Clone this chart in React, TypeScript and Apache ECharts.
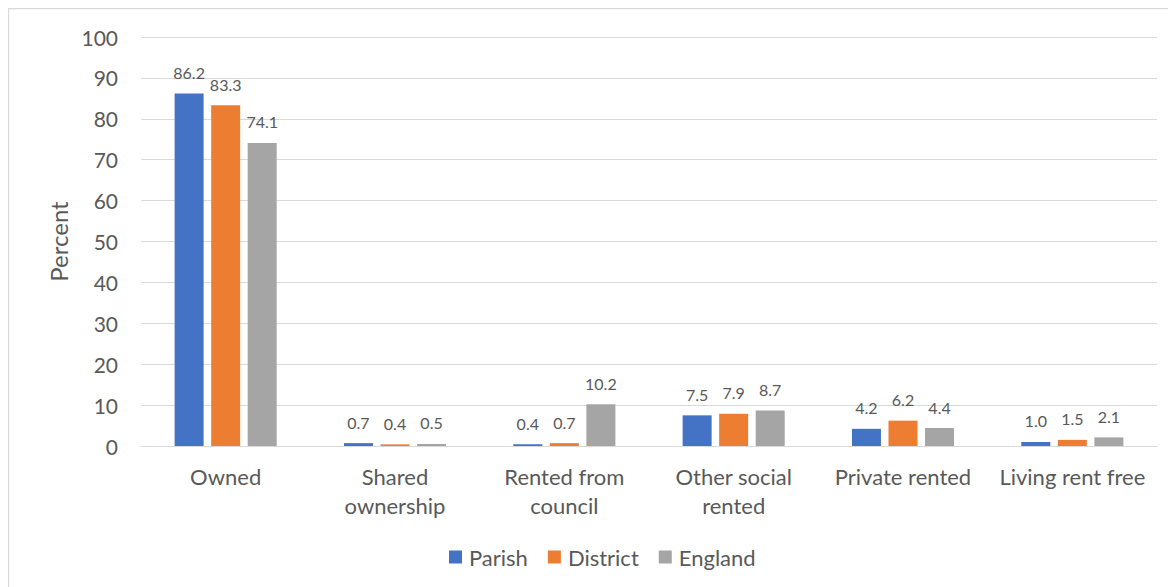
import React, { useEffect, useRef } from "react";
import * as echarts from "echarts";

// Housing tenure shares (percent of households)
const categories = [
  "Owned",
  "Shared\nownership",
  "Rented from\ncouncil",
  "Other social\nrented",
  "Private rented",
  "Living rent free",
];
const seriesNames = ["Parish", "District", "England"];
const parish = [86.2, 0.7, 0.4, 7.5, 4.2, 1.0];
const district = [83.3, 0.4, 0.7, 7.9, 6.2, 1.5];
const england = [74.1, 0.5, 10.2, 8.7, 4.4, 2.1];
const colors = ["#4472C4", "#ED7D31", "#A5A5A5"];

const FONT = "Lato, 'Open Sans', sans-serif";
const TEXT = "#595959";
const GRID = "#d9d9d9";

export default function App() {
  const ref = useRef<HTMLDivElement>(null);

  useEffect(() => {
    document.body.style.overflow = "hidden";
    if (!ref.current) return;
    const chart = echarts.init(ref.current, undefined, { renderer: "svg" });
    const values = [parish, district, england];
    chart.setOption({
      animation: false,
      backgroundColor: "#ffffff",
      textStyle: { fontFamily: FONT, color: TEXT },
      grid: { left: 133, right: 19, top: 29, bottom: 141, containLabel: false },
      graphic: [
        {
          type: "line",
          shape: { x1: 0, y1: 0.5, x2: 1168, y2: 0.5 },
          style: { stroke: GRID, lineWidth: 1.3 },
        },
        {
          type: "line",
          shape: { x1: 0.5, y1: 0, x2: 0.5, y2: 579 },
          style: { stroke: GRID, lineWidth: 1.3 },
        },
      ],
      legend: {
        data: seriesNames,
        left: 436,
        top: 533,
        icon: "rect",
        itemWidth: 13,
        itemHeight: 13,
        itemGap: 20,
        textStyle: { fontFamily: FONT, fontSize: 22, color: TEXT, padding: [0, 0, 0, 2] },
      },
      xAxis: {
        type: "category",
        data: categories,
        axisTick: { show: false },
        axisLine: { lineStyle: { color: GRID, width: 1 } },
        axisLabel: {
          interval: 0,
          margin: 16,
          fontFamily: FONT,
          fontSize: 22,
          lineHeight: 29,
          color: TEXT,
        },
      },
      yAxis: {
        type: "value",
        min: 0,
        max: 100,
        interval: 10,
        name: "Percent",
        nameLocation: "middle",
        nameRotate: 90,
        nameGap: 70,
        nameTextStyle: { fontFamily: FONT, fontSize: 24, color: TEXT },
        axisLine: { show: false },
        axisTick: { show: false },
        axisLabel: { margin: 23, fontFamily: FONT, fontSize: 21, color: TEXT },
        splitLine: { lineStyle: { color: GRID, width: 1 } },
      },
      series: seriesNames.map((name, i) => ({
        name,
        type: "bar",
        data: values[i],
        barWidth: 29,
        barGap: "26%",
        itemStyle: { color: colors[i] },
        label: {
          show: true,
          position: "top",
          distance: 13,
          fontFamily: FONT,
          fontSize: 16,
          color: TEXT,
          formatter: (p: any) => Number(p.value).toFixed(1),
        },
      })),
    });
    return () => chart.dispose();
  }, []);

  return <div ref={ref} style={{ width: 1168, height: 579 }} />;
}
